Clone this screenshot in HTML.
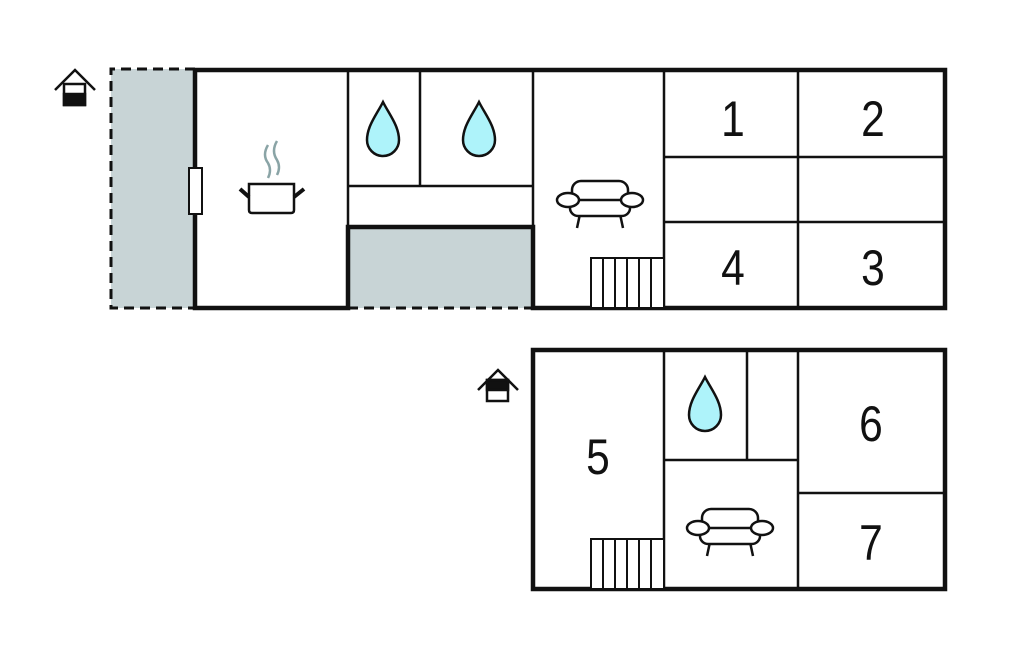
<!DOCTYPE html>
<html><head><style>body{margin:0;background:#fff}svg{display:block}text{font-family:"Liberation Sans",sans-serif;font-size:50px;fill:#111;text-anchor:middle}</style></head>
<body>
<svg width="1024" height="652" viewBox="0 0 1024 652" xmlns="http://www.w3.org/2000/svg">
<defs>
<g id="drop"><path d="M0,-28 C-6,-16 -16,-4 -16,10 A16,16 0 0 0 16,10 C16,-4 6,-16 0,-28 Z" fill="#aef3fa" stroke="#111" stroke-width="2.5"/></g>
<g id="sofa" fill="#fff" stroke="#111" stroke-width="2.5">
<line x1="-20" y1="14" x2="-23" y2="28"/><line x1="20" y1="14" x2="23" y2="28"/>
<rect x="-28" y="-19" width="56" height="24" rx="9"/>
<rect x="-30" y="0" width="60" height="16" rx="8"/>
<ellipse cx="-32" cy="0" rx="11" ry="7"/><ellipse cx="32" cy="0" rx="11" ry="7"/>
</g>
<g id="stairs" fill="#fff" stroke="#111" stroke-width="2"><rect x="0" y="0" width="73" height="50"/>
<line x1="12" y1="0" x2="12" y2="50"/><line x1="24" y1="0" x2="24" y2="50"/><line x1="36" y1="0" x2="36" y2="50"/><line x1="48" y1="0" x2="48" y2="50"/><line x1="60" y1="0" x2="60" y2="50"/></g>
</defs>
<rect x="111" y="69" width="84" height="239" fill="#c8d4d6"/>
<rect x="348" y="227" width="185" height="81" fill="#c8d4d6"/>
<path d="M195,69 H111 V308 H195 M348,308 H533" fill="none" stroke="#111" stroke-width="3" stroke-dasharray="10,6"/>
<g stroke="#111" stroke-width="2.5" fill="none">
<line x1="348" y1="70" x2="348" y2="227"/><line x1="420" y1="70" x2="420" y2="186"/>
<line x1="348" y1="186" x2="533" y2="186"/><line x1="533" y1="70" x2="533" y2="227"/>
<line x1="664" y1="70" x2="664" y2="308"/><line x1="798" y1="70" x2="798" y2="308"/>
<line x1="664" y1="157" x2="945" y2="157"/><line x1="664" y1="222" x2="945" y2="222"/>
<line x1="664" y1="350" x2="664" y2="589"/><line x1="747" y1="350" x2="747" y2="460"/>
<line x1="664" y1="460" x2="798" y2="460"/><line x1="798" y1="350" x2="798" y2="589"/>
<line x1="798" y1="493" x2="945" y2="493"/>
</g>
<g stroke="#111" stroke-width="4.5" fill="none">
<path d="M195,70 H945 V308 H533 V227 H348 V308 H195 Z"/>
<rect x="533" y="350" width="412" height="239"/>
</g>
<rect x="189" y="168" width="13" height="46" fill="#fff" stroke="#111" stroke-width="2"/>
<use href="#stairs" x="591" y="258"/>
<use href="#stairs" x="591" y="539"/>
<use href="#drop" x="383" y="130"/><use href="#drop" x="479" y="130"/><use href="#drop" x="705" y="405"/>
<use href="#sofa" x="600" y="200"/><use href="#sofa" x="730" y="528"/>
<g stroke="#111" stroke-width="2.5" fill="#fff">
<path d="M249,184 H294 V210 Q294,213 291,213 H252 Q249,213 249,210 Z"/>
<line x1="240" y1="189" x2="249" y2="197" stroke-width="4"/><line x1="304" y1="189" x2="294" y2="197" stroke-width="4"/>
</g>
<path d="M268,145 Q262,155 268,163 Q272,170 268,178 M277,141 Q271,151 277,160 Q281,167 277,175" fill="none" stroke="#8aa4a6" stroke-width="2.5"/>
<g stroke="#111" stroke-width="2.5" fill="#fff">
<path d="M55,90 L75,70 L95,90"/><rect x="64" y="84" width="21" height="21"/>
<rect x="64" y="94" width="21" height="11" fill="#111"/>
<path d="M478,390 L498,370 L518,390"/><rect x="487" y="380" width="21" height="21"/>
<rect x="487" y="380" width="21" height="10" fill="#111"/>
</g>
<text transform="translate(733,136) scale(0.85,1)">1</text>
<text transform="translate(873,136) scale(0.85,1)">2</text>
<text transform="translate(733,285) scale(0.85,1)">4</text>
<text transform="translate(873,285) scale(0.85,1)">3</text>
<text transform="translate(598,474) scale(0.85,1)">5</text>
<text transform="translate(871,441) scale(0.85,1)">6</text>
<text transform="translate(871,560) scale(0.85,1)">7</text>
</svg>
</body></html>
